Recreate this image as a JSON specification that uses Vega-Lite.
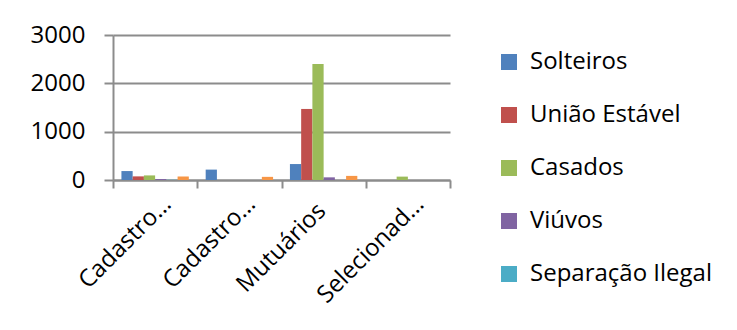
{
  "$schema": "https://vega.github.io/schema/vega-lite/v6.json",
  "width": 337,
  "height": 145,
  "autosize": "none",
  "padding": {"left": 113, "top": 35, "right": 287, "bottom": 150},
  "background": "white",
  "config": {"font": "Open Sans", "view": {"stroke": null}},
  "data": {
    "values": [
      {"grupo": "Cadastrados", "estado": "Solteiros", "valor": 185},
      {"grupo": "Cadastrados", "estado": "União Estável", "valor": 75},
      {"grupo": "Cadastrados", "estado": "Casados", "valor": 95},
      {"grupo": "Cadastrados", "estado": "Viúvos", "valor": 20},
      {"grupo": "Cadastrados", "estado": "Separação Ilegal", "valor": 5},
      {"grupo": "Cadastrados", "estado": "Divorciados", "valor": 75},
      {"grupo": "Cadastro Reserva", "estado": "Solteiros", "valor": 215},
      {"grupo": "Cadastro Reserva", "estado": "União Estável", "valor": 0},
      {"grupo": "Cadastro Reserva", "estado": "Casados", "valor": 0},
      {"grupo": "Cadastro Reserva", "estado": "Viúvos", "valor": 0},
      {"grupo": "Cadastro Reserva", "estado": "Separação Ilegal", "valor": 0},
      {"grupo": "Cadastro Reserva", "estado": "Divorciados", "valor": 65},
      {"grupo": "Mutuários", "estado": "Solteiros", "valor": 330},
      {"grupo": "Mutuários", "estado": "União Estável", "valor": 1470},
      {"grupo": "Mutuários", "estado": "Casados", "valor": 2400},
      {"grupo": "Mutuários", "estado": "Viúvos", "valor": 55},
      {"grupo": "Mutuários", "estado": "Separação Ilegal", "valor": 0},
      {"grupo": "Mutuários", "estado": "Divorciados", "valor": 85},
      {"grupo": "Selecionados", "estado": "Solteiros", "valor": 0},
      {"grupo": "Selecionados", "estado": "União Estável", "valor": 0},
      {"grupo": "Selecionados", "estado": "Casados", "valor": 70},
      {"grupo": "Selecionados", "estado": "Viúvos", "valor": 0},
      {"grupo": "Selecionados", "estado": "Separação Ilegal", "valor": 0},
      {"grupo": "Selecionados", "estado": "Divorciados", "valor": 0}
    ]
  },
  "mark": {"type": "bar"},
  "encoding": {
    "x": {
      "field": "grupo",
      "type": "nominal",
      "sort": ["Cadastrados", "Cadastro Reserva", "Mutuários", "Selecionados"],
      "scale": {"paddingInner": 0, "paddingOuter": 0},
      "title": null,
      "axis": {
        "tickBand": "extent",
        "domainColor": "#8c8c8c",
        "domainWidth": 2,
        "tickColor": "#8c8c8c",
        "tickWidth": 2,
        "tickSize": 8,
        "labelAngle": -45,
        "labelAlign": "right",
        "labelBaseline": "middle",
        "labelFontSize": 24,
        "labelColor": "black",
        "labelOverlap": false,
        "labelLimit": 300,
        "labelPadding": {"condition": {"test": "datum.value == 'Mutuários'", "value": 19}, "value": 12},
        "labelOffset": {"condition": {"test": "datum.value == 'Mutuários'", "value": -2}, "value": 12},
        "labelExpr": "datum.extra ? '' : (datum.value == 'Mutuários' ? 'Mutuários' : (datum.value == 'Selecionados' ? 'Selecionad…' : 'Cadastro…'))"
      }
    },
    "xOffset": {
      "field": "estado",
      "sort": ["Solteiros", "União Estável", "Casados", "Viúvos", "Separação Ilegal", "Divorciados"],
      "scale": {"paddingInner": 0, "paddingOuter": 0.75}
    },
    "y": {
      "field": "valor",
      "type": "quantitative",
      "scale": {"domain": [0, 3000], "nice": false},
      "title": null,
      "axis": {
        "values": [0, 1000, 2000, 3000],
        "format": "d",
        "grid": true,
        "gridColor": "#8c8c8c",
        "gridWidth": 2,
        "domainColor": "#8c8c8c",
        "domainWidth": 2,
        "tickColor": "#8c8c8c",
        "tickWidth": 2,
        "tickSize": 9,
        "labelFontSize": 24,
        "labelColor": "black",
        "labelPadding": 19
      }
    },
    "color": {
      "field": "estado",
      "type": "nominal",
      "scale": {
        "domain": ["Solteiros", "União Estável", "Casados", "Viúvos", "Separação Ilegal", "Divorciados"],
        "range": ["#4F81BD", "#C0504D", "#9BBB59", "#8064A2", "#4BACC6", "#F79646"]
      },
      "legend": {
        "values": ["Solteiros", "União Estável", "Casados", "Viúvos", "Separação Ilegal"],
        "orient": "none",
        "legendX": 384,
        "legendY": 15,
        "title": null,
        "symbolType": "square",
        "symbolSize": 256,
        "symbolStrokeWidth": 0,
        "labelFontSize": 24,
        "labelColor": "black",
        "labelOffset": 9,
        "labelLimit": 300,
        "rowPadding": 29
      }
    }
  }
}
